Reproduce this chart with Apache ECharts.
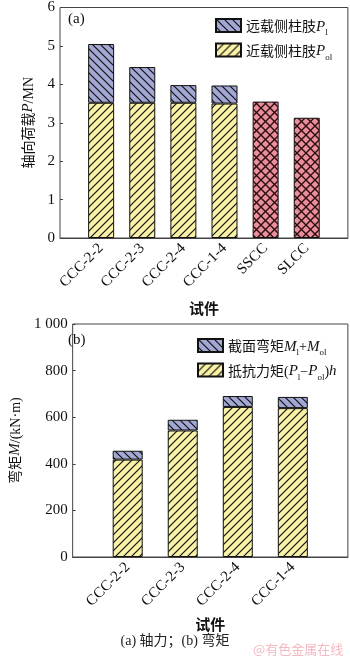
<!DOCTYPE html>
<html>
<head>
<meta charset="utf-8">
<script src="https://cdn.jsdelivr.net/npm/echarts@6/dist/echarts.min.js"></script>
<style>
  html, body { margin: 0; padding: 0; background: #fff; }
  #main { width: 350px; height: 657px; }
</style>
</head>
<body>
<div id="main"></div>
<script>
// ---- data ----
const topCats = ['CCC-2-2', 'CCC-2-3', 'CCC-2-4', 'CCC-1-4', 'SSCC', 'SLCC'];
const pNear = [3.52, 3.52, 3.52, 3.50, null, null];   // 近载侧柱肢 P_ol
const pFar = [1.53, 0.93, 0.46, 0.47, null, null];    // 远载侧柱肢 P_l (stacked on top)
const pSteel = [null, null, null, null, 3.55, 3.13];  // SSCC / SLCC
const topTicks = [0, 1, 2, 3, 4, 5, 6];

const botCats = ['CCC-2-2', 'CCC-2-3', 'CCC-2-4', 'CCC-1-4'];
const mResist = [418, 543, 644, 639];   // 抵抗力矩 (P_l-P_ol)h
const mSection = [38, 46, 47, 48];      // 截面弯矩 M_l+M_ol (stacked on top)
const botTicks = [0, 200, 400, 600, 800, 1000];

// pad with an empty slot on both ends so bars sit one spacing in from the frame
const pad = arr => ['-'].concat(arr.map(v => v == null ? '-' : v), ['-']);
const padCats = arr => [''].concat(arr, ['']);

// ---- hatch patterns ----
function hatch(bg, kind, lw, stroke, size) {
  const s = size || 8;
  const c = document.createElement('canvas');
  c.width = s; c.height = s;
  const g = c.getContext('2d');
  g.fillStyle = bg;
  g.fillRect(0, 0, s, s);
  g.strokeStyle = stroke || '#111';
  g.lineWidth = lw;
  const fwd = () => {
    g.beginPath();
    g.moveTo(-2, s + 2); g.lineTo(s + 2, -2);
    g.moveTo(-2, 2); g.lineTo(2, -2);
    g.moveTo(s - 2, s + 2); g.lineTo(s + 2, s - 2);
    g.stroke();
  };
  const back = () => {
    g.beginPath();
    g.moveTo(-2, -2); g.lineTo(s + 2, s + 2);
    g.moveTo(s - 2, -2); g.lineTo(s + 2, 2);
    g.moveTo(-2, s - 2); g.lineTo(2, s + 2);
    g.stroke();
  };
  if (kind === '/' || kind === 'x') fwd();
  if (kind === '\\' || kind === 'x') back();
  return { image: c, repeat: 'repeat' };
}

const yellow = hatch('#f9f1a6', '/', 1.2);
const blue = hatch('#a2a7d3', '\\', 1.2);
const pink = hatch('#ea8e9c', 'x', 1.4, '#2b0d0d', 9);

const serif = 'Liberation Serif';
const cjk = '"Liberation Serif", "Noto Sans CJK SC"';
const rich = {
  i: { fontFamily: serif, fontStyle: 'italic', fontSize: 15, lineHeight: 18, verticalAlign: 'bottom', color: '#111' },
  sub: { fontFamily: serif, fontSize: 9, lineHeight: 18, verticalAlign: 'bottom', padding: [0, 0, -3, 0], color: '#111' },
  t: { fontFamily: cjk, fontSize: 14, lineHeight: 18, verticalAlign: 'bottom', color: '#111' }
};

const legendText = {
  '远载侧柱肢Pl': '{t|远载侧柱肢}{i|P}{sub|l}',
  '近载侧柱肢Pol': '{t|近载侧柱肢}{i|P}{sub|ol}',
  '截面弯矩': '{t|截面弯矩}{i|M}{sub|l}{t|+}{i|M}{sub|ol}',
  '抵抗力矩': '{t|抵抗力矩(}{i|P}{sub|l}{t|−}{i|P}{sub|ol}{t|)}{i|h}'
};

const axisBase = {
  axisLine: { lineStyle: { color: '#444', width: 1 } },
  axisTick: { show: false },
  splitLine: { show: false }
};

const chart = echarts.init(document.getElementById('main'), null, { renderer: 'canvas' });

const option = {
  animation: false,
  backgroundColor: '#fff',
  grid: [
    { left: 60, right: 1, top: 5, bottom: 419, show: true, borderColor: '#444', borderWidth: 1 },
    { left: 60, right: 1, top: 324, bottom: 100, show: true, borderColor: '#444', borderWidth: 1 }
  ],
  legend: [
    {
      data: ['远载侧柱肢Pl', '近载侧柱肢Pol'],
      orient: 'vertical', left: 210, top: 13, itemWidth: 25, itemHeight: 13, itemGap: 5,
      icon: 'rect',
      formatter: n => legendText[n],
      textStyle: { rich: rich }
    },
    {
      data: ['截面弯矩', '抵抗力矩'],
      orient: 'vertical', left: 192, top: 333, itemWidth: 25, itemHeight: 13, itemGap: 5,
      icon: 'rect',
      formatter: n => legendText[n],
      textStyle: { rich: rich }
    }
  ],
  xAxis: [0, 1].map(k => Object.assign({}, axisBase, {
    type: 'category',
    gridIndex: k,
    boundaryGap: false,
    data: padCats(k === 0 ? topCats : botCats),
    name: '试件',
    nameLocation: 'middle',
    nameGap: k === 0 ? 65 : 62,
    nameTextStyle: { fontFamily: cjk, fontSize: 15, fontWeight: 'bold', color: '#111' },
    axisLabel: { rotate: 45, margin: 8, fontFamily: serif, fontSize: 15, color: '#111', interval: 0 }
  })),
  yAxis: [
    Object.assign({}, axisBase, {
      type: 'value', gridIndex: 0, min: 0, max: 6, interval: 1,
      axisTick: { show: true, inside: true, length: 3, lineStyle: { color: '#444' } },
      axisLabel: { fontFamily: serif, fontSize: 15, color: '#111', margin: 5,
        formatter: v => topTicks.includes(v) ? String(v) : '' },
      name: '{t|轴向荷载}{i|P}{t|/MN}',
      nameLocation: 'middle', nameGap: 24, nameRotate: 90,
      nameTextStyle: { rich: rich }
    }),
    Object.assign({}, axisBase, {
      type: 'value', gridIndex: 1, min: 0, max: 1000, interval: 200,
      axisTick: { show: true, inside: true, length: 3, lineStyle: { color: '#444' } },
      axisLabel: { fontFamily: serif, fontSize: 15, color: '#111', margin: 5,
        formatter: v => botTicks.includes(v) ? (v === 1000 ? '1 000' : String(v)) : '' },
      name: '{t|弯矩}{i|M}{t|/(kN·m)}',
      nameLocation: 'middle', nameGap: 45, nameRotate: 90,
      nameTextStyle: { rich: rich }
    })
  ],
  series: [
    {
      name: '近载侧柱肢Pol', type: 'bar', stack: 'a', xAxisIndex: 0, yAxisIndex: 0,
      barWidth: 26, data: pad(pNear),
      itemStyle: { color: yellow, borderColor: '#111', borderWidth: 1 }
    },
    {
      name: '远载侧柱肢Pl', type: 'bar', stack: 'a', xAxisIndex: 0, yAxisIndex: 0,
      barWidth: 26, data: pad(pFar),
      itemStyle: { color: blue, borderColor: '#111', borderWidth: 1 }
    },
    {
      name: '钢管混凝土', type: 'bar', stack: 'a', xAxisIndex: 0, yAxisIndex: 0,
      barWidth: 26, data: pad(pSteel),
      itemStyle: { color: pink, borderColor: '#111', borderWidth: 1 }
    },
    {
      name: '抵抗力矩', type: 'bar', stack: 'b', xAxisIndex: 1, yAxisIndex: 1,
      barWidth: 30, data: pad(mResist),
      itemStyle: { color: yellow, borderColor: '#111', borderWidth: 1 }
    },
    {
      name: '截面弯矩', type: 'bar', stack: 'b', xAxisIndex: 1, yAxisIndex: 1,
      barWidth: 30, data: pad(mSection),
      itemStyle: { color: blue, borderColor: '#111', borderWidth: 1 }
    }
  ],
  graphic: [
    { type: 'text', left: 68, top: 12, style: { text: '(a)', font: '15px "Liberation Serif"', fill: '#111' } },
    { type: 'text', left: 68, top: 333, style: { text: '(b)', font: '15px "Liberation Serif"', fill: '#111' } },
    { type: 'text', left: 'center', top: 634, style: { text: '(a) 轴力；(b) 弯矩', font: '14px "Liberation Serif", "Noto Sans CJK SC"', fill: '#222' } },
    { type: 'text', left: 253, top: 643, style: { text: '@有色金属在线', font: '13px "Noto Sans CJK SC"', fill: '#f3b9c0' } }
  ]
};

chart.setOption(option);
</script>
</body>
</html>
